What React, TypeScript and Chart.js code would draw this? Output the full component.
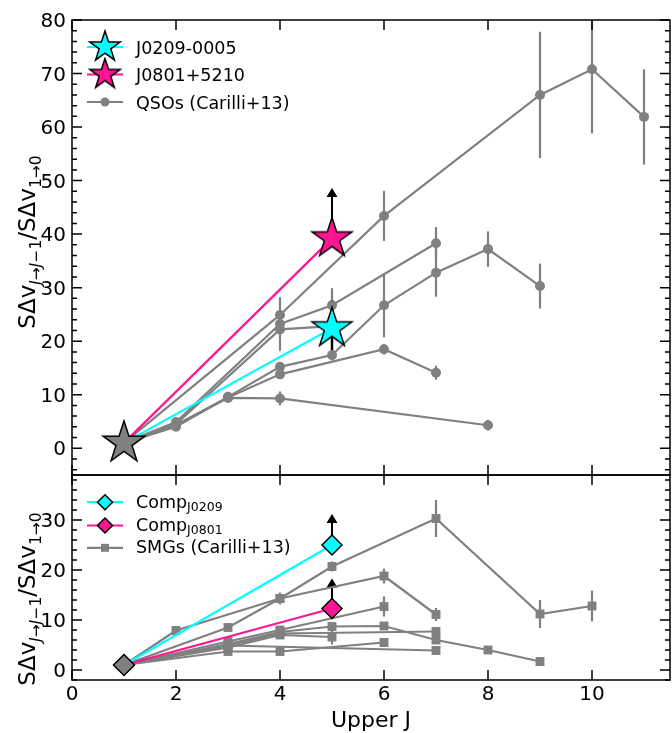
import React, { useEffect, useRef } from "react";
import { Chart, registerables } from "chart.js";
Chart.register(...registerables);

const FONT = '"DejaVu Sans", sans-serif';
const GREY = "#808080";
const CYAN = "#00ffff";
const PINK = "#ff1493";

// ---- axes / ticks ----
const X_MIN = 0;
const X_MAX = 11.5;
const X_TICKS = [0, 2, 4, 6, 8, 10];
const TOP_Y_MIN = -5;
const TOP_Y_MAX = 80;
const TOP_Y_TICKS = [0, 10, 20, 30, 40, 50, 60, 70, 80];
const BOT_Y_MIN = -2;
const BOT_Y_MAX = 39;
const BOT_Y_TICKS = [0, 10, 20, 30];

// ---- top panel: targets ----
const J0209_J = [1, 5];
const J0209_V = [1, 22.4];
const J0209_ERR = 5.3;
const J0801_J = [1, 5];
const J0801_V = [1, 39.2];
const J0801_LIMIT = 48.6;

// ---- top panel: QSOs (Carilli+13) ----
const QSO1_J = [1, 4, 6, 9, 10, 11];
const QSO1_V = [1, 24.9, 43.4, 66, 70.8, 61.9];
const QSO1_E = [0, 0, 4.7, 11.8, 12, 8.9];
const QSO2_J = [1, 2, 4, 5, 7];
const QSO2_V = [1, 4.9, 23.2, 26.7, 38.3];
const QSO2_E = [0, 0.4, 5, 3.2, 3];
const QSO3_J = [1, 2, 4, 5];
const QSO3_V = [1, 4.5, 22.2, 22.8];
const QSO3_E = [0, 0.4, 1, 1];
const QSO4_J = [1, 2, 3, 4, 5, 6, 7, 8, 9];
const QSO4_V = [1, 4.2, 9.6, 15.2, 17.4, 26.7, 32.8, 37.2, 30.3];
const QSO4_E = [0, 0.4, 0.6, 0.8, 1, 6, 4.5, 3.3, 4.2];
const QSO5_J = [1, 2, 3, 4, 6, 7];
const QSO5_V = [1, 4.0, 9.5, 13.8, 18.5, 14.1];
const QSO5_E = [0, 0.4, 0.6, 0.8, 1, 1.3];
const QSO6_J = [1, 2, 3, 4, 8];
const QSO6_V = [1, 4.4, 9.4, 9.3, 4.3];
const QSO6_E = [0, 0.4, 0.5, 1.3, 1];

// ---- bottom panel: companions ----
const COMP0209_J = [1, 5];
const COMP0209_V = [1, 25.0];
const COMP0209_LIMIT = 31.2;
const COMP0801_J = [1, 5];
const COMP0801_V = [1, 12.3];
const COMP0801_LIMIT = 18.3;

// ---- bottom panel: SMGs (Carilli+13) ----
const SMG1_J = [1, 3, 4, 5, 7, 9, 10];
const SMG1_V = [1, 8.5, 14.3, 20.7, 30.3, 11.2, 12.8];
const SMG1_E = [0, 0.5, 1.2, 1, 3.7, 2.8, 3.1];
const SMG2_J = [1, 2, 4, 6, 7];
const SMG2_V = [1, 7.9, 14.3, 18.8, 11.1];
const SMG2_E = [0, 0.4, 1, 1.5, 1.3];
const SMG3_J = [1, 3, 4, 6];
const SMG3_V = [1, 5.7, 8.0, 12.7];
const SMG3_E = [0, 0.5, 0.8, 2];
const SMG4_J = [1, 3, 4, 5, 6, 7, 8, 9];
const SMG4_V = [1, 5.2, 7.6, 8.7, 8.8, 6.0, 4.0, 1.7];
const SMG4_E = [0, 0.3, 0.5, 0.6, 0.5, 0.6, 0.4, 0.3];
const SMG5_J = [1, 3, 4, 7];
const SMG5_V = [1, 4.9, 7.3, 7.7];
const SMG5_E = [0, 0.4, 0.6, 0.8];
const SMG6_J = [1, 3, 4, 5];
const SMG6_V = [1, 4.5, 7.0, 6.6];
const SMG6_E = [0, 0.4, 0.6, 1.5];
const SMG7_J = [1, 3, 4, 6];
const SMG7_V = [1, 3.7, 3.7, 5.5];
const SMG7_E = [0, 0.3, 0.4, 0.5];
const SMG8_J = [1, 3, 7];
const SMG8_V = [1, 4.9, 3.9];
const SMG8_E = [0, 0.4, 0.8];

const pts = (js: number[], vs: number[]) => js.map((x, i) => ({ x, y: vs[i] }));

function makeStar(R: number, fill: string): HTMLCanvasElement {
  const pad = 2;
  const size = Math.ceil(2 * R + 2 * pad);
  const c = document.createElement("canvas");
  c.width = size;
  c.height = size;
  const g = c.getContext("2d")!;
  const cx = size / 2;
  const cy = size / 2;
  const r = R * 0.382;
  g.beginPath();
  for (let k = 0; k < 10; k++) {
    const rad = k % 2 === 0 ? R : r;
    const a = -Math.PI / 2 + (k * Math.PI) / 5;
    const px = cx + rad * Math.cos(a);
    const py = cy + rad * Math.sin(a);
    if (k === 0) g.moveTo(px, py);
    else g.lineTo(px, py);
  }
  g.closePath();
  g.fillStyle = fill;
  g.fill();
  g.lineWidth = 1.5;
  g.strokeStyle = "#000";
  g.stroke();
  return c;
}

function drawArrow(ctx: CanvasRenderingContext2D, x: number, yFrom: number, yTip: number) {
  const headL = 9;
  const headW = 5.5;
  ctx.save();
  ctx.strokeStyle = "#000";
  ctx.fillStyle = "#000";
  ctx.lineWidth = 2;
  ctx.beginPath();
  ctx.moveTo(x, yFrom);
  ctx.lineTo(x, yTip + headL);
  ctx.stroke();
  ctx.beginPath();
  ctx.moveTo(x, yTip);
  ctx.lineTo(x - headW, yTip + headL);
  ctx.lineTo(x + headW, yTip + headL);
  ctx.closePath();
  ctx.fill();
  ctx.restore();
}

function drawErrorBars(chart: any) {
  const { ctx, chartArea: a, scales } = chart;
  const xs = scales.x;
  const ys = scales.y;
  ctx.save();
  ctx.beginPath();
  ctx.rect(a.left, a.top, a.right - a.left, a.bottom - a.top);
  ctx.clip();
  ctx.strokeStyle = GREY;
  ctx.lineWidth = 2.2;
  chart.data.datasets.forEach((ds: any) => {
    if (!ds.errs) return;
    ds.data.forEach((p: any, j: number) => {
      const e = ds.errs[j];
      if (!e) return;
      const px = xs.getPixelForValue(p.x);
      ctx.beginPath();
      ctx.moveTo(px, ys.getPixelForValue(p.y - e));
      ctx.lineTo(px, ys.getPixelForValue(p.y + e));
      ctx.stroke();
    });
  });
  ctx.restore();
}

function drawFrame(chart: any, yTicks: number[], yMin: number, yMax: number, showX: boolean) {
  const { ctx, chartArea: a, scales } = chart;
  const xs = scales.x;
  const ys = scales.y;
  ctx.save();
  ctx.strokeStyle = "#000";
  ctx.lineWidth = 1.5;
  ctx.strokeRect(a.left, a.top, a.right - a.left, a.bottom - a.top);
  ctx.beginPath();
  X_TICKS.forEach((v) => {
    const px = xs.getPixelForValue(v);
    ctx.moveTo(px, a.bottom);
    ctx.lineTo(px, a.bottom - 10);
    ctx.moveTo(px, a.top);
    ctx.lineTo(px, a.top + 10);
  });
  for (let v = Math.ceil(yMin / 2) * 2; v <= yMax; v += 2) {
    const py = ys.getPixelForValue(v);
    const L = yTicks.includes(v) ? 10 : 5;
    ctx.moveTo(a.left, py);
    ctx.lineTo(a.left + L, py);
    ctx.moveTo(a.right, py);
    ctx.lineTo(a.right - L, py);
  }
  ctx.stroke();
  ctx.fillStyle = "#000";
  ctx.font = `20px ${FONT}`;
  ctx.textAlign = "right";
  ctx.textBaseline = "alphabetic";
  yTicks.forEach((v) => {
    ctx.fillText(String(v), a.left - 6, ys.getPixelForValue(v) + 7);
  });
  if (showX) {
    ctx.textAlign = "center";
    X_TICKS.forEach((v) => {
      ctx.fillText(String(v), xs.getPixelForValue(v), a.bottom + 20);
    });
  }
  ctx.restore();
}

function drawYTitle(ctx: CanvasRenderingContext2D, bx: number, cy: number) {
  const main = 23;
  const sub = 15.5;
  const drop = 5.5;
  const parts = [
    { t: "SΔv", f: `${main}px ${FONT}`, dy: 0 },
    { t: "J", f: `italic ${sub}px ${FONT}`, dy: drop },
    { t: "→", f: `${sub}px ${FONT}`, dy: drop },
    { t: "J", f: `italic ${sub}px ${FONT}`, dy: drop },
    { t: "−1", f: `${sub}px ${FONT}`, dy: drop },
    { t: "/SΔv", f: `${main}px ${FONT}`, dy: 0 },
    { t: "1→0", f: `${sub}px ${FONT}`, dy: drop },
  ];
  ctx.save();
  let total = 0;
  const widths = parts.map((p) => {
    ctx.font = p.f;
    const w = ctx.measureText(p.t).width;
    total += w;
    return w;
  });
  ctx.translate(bx, cy);
  ctx.rotate(-Math.PI / 2);
  ctx.fillStyle = "#000";
  ctx.textAlign = "left";
  ctx.textBaseline = "alphabetic";
  let x = -total / 2;
  parts.forEach((p, i) => {
    ctx.font = p.f;
    ctx.fillText(p.t, x, p.dy);
    x += widths[i];
  });
  ctx.restore();
}

function legendLine(ctx: CanvasRenderingContext2D, y: number, color: string) {
  ctx.save();
  ctx.strokeStyle = color;
  ctx.lineWidth = 2.2;
  ctx.beginPath();
  ctx.moveTo(87, y);
  ctx.lineTo(123, y);
  ctx.stroke();
  ctx.restore();
}

function legendDiamond(ctx: CanvasRenderingContext2D, x: number, y: number, r: number, fill: string) {
  ctx.save();
  ctx.beginPath();
  ctx.moveTo(x, y - r);
  ctx.lineTo(x + r, y);
  ctx.lineTo(x, y + r);
  ctx.lineTo(x - r, y);
  ctx.closePath();
  ctx.fillStyle = fill;
  ctx.fill();
  ctx.strokeStyle = "#000";
  ctx.lineWidth = 1.5;
  ctx.stroke();
  ctx.restore();
}

const STAR_CYAN = makeStar(21, CYAN);
const STAR_PINK = makeStar(21, PINK);
const STAR_GREY = makeStar(22, GREY);
const LSTAR_CYAN = makeStar(16, CYAN);
const LSTAR_PINK = makeStar(16, PINK);

const greyRadius = (r: number) => (c: any) => (c.dataIndex === 0 ? 0 : r);

function qso(js: number[], vs: number[], es: number[]) {
  return {
    data: pts(js, vs),
    errs: es,
    borderColor: GREY,
    borderWidth: 2.2,
    pointStyle: "circle",
    pointRadius: greyRadius(5),
    pointBackgroundColor: GREY,
    pointBorderWidth: 0,
    order: 10,
  };
}

function smg(js: number[], vs: number[], es: number[]) {
  return {
    data: pts(js, vs),
    errs: es,
    borderColor: GREY,
    borderWidth: 2.2,
    pointStyle: "rect",
    pointRadius: greyRadius(6.3),
    pointBackgroundColor: GREY,
    pointBorderWidth: 0,
    order: 10,
  };
}

function lineOnly(js: number[], vs: number[], color: string) {
  return {
    data: pts(js, vs),
    borderColor: color,
    borderWidth: 2.2,
    pointRadius: 0,
    order: 5,
  };
}

function marker(j: number, v: number, style: any, radius: number, fill: string, order: number) {
  return {
    data: [{ x: j, y: v }],
    showLine: false,
    pointStyle: style,
    pointRadius: radius,
    pointBackgroundColor: fill,
    pointBorderColor: "#000",
    pointBorderWidth: 1.5,
    order,
  };
}

const topPlugin = {
  id: "topPanel",
  beforeDatasetsDraw(chart: any) {
    drawErrorBars(chart);
    const { ctx, scales } = chart;
    const xs = scales.x;
    const ys = scales.y;
    const px = xs.getPixelForValue(J0209_J[1]);
    ctx.save();
    ctx.strokeStyle = "#000";
    ctx.lineWidth = 2.5;
    ctx.beginPath();
    ctx.moveTo(px, ys.getPixelForValue(J0209_V[1] - J0209_ERR));
    ctx.lineTo(px, ys.getPixelForValue(J0209_V[1] + J0209_ERR));
    ctx.stroke();
    ctx.restore();
    drawArrow(
      ctx,
      xs.getPixelForValue(J0801_J[1]),
      ys.getPixelForValue(J0801_V[1]),
      ys.getPixelForValue(J0801_LIMIT)
    );
  },
  afterDraw(chart: any) {
    const { ctx } = chart;
    drawFrame(chart, TOP_Y_TICKS, TOP_Y_MIN, TOP_Y_MAX, false);
    drawYTitle(ctx, 35, 242);
    const rows = [53.5, 81, 108.5];
    ctx.save();
    legendLine(ctx, rows[0] - 6.5, CYAN);
    ctx.drawImage(LSTAR_CYAN, 105 - LSTAR_CYAN.width / 2, rows[0] - 6.5 - LSTAR_CYAN.height / 2);
    legendLine(ctx, rows[1] - 6.5, PINK);
    ctx.drawImage(LSTAR_PINK, 105 - LSTAR_PINK.width / 2, rows[1] - 6.5 - LSTAR_PINK.height / 2);
    legendLine(ctx, rows[2] - 6.5, GREY);
    ctx.fillStyle = GREY;
    ctx.beginPath();
    ctx.arc(105, rows[2] - 6.5, 4.5, 0, Math.PI * 2);
    ctx.fill();
    ctx.fillStyle = "#000";
    ctx.font = `17.5px ${FONT}`;
    ctx.textAlign = "left";
    ctx.textBaseline = "alphabetic";
    ctx.fillText("J0209-0005", 136, rows[0]);
    ctx.fillText("J0801+5210", 136, rows[1]);
    ctx.fillText("QSOs (Carilli+13)", 136, rows[2]);
    ctx.restore();
  },
};

const botPlugin = {
  id: "botPanel",
  beforeDatasetsDraw(chart: any) {
    drawErrorBars(chart);
    const { ctx, scales } = chart;
    const xs = scales.x;
    const ys = scales.y;
    drawArrow(ctx, xs.getPixelForValue(COMP0209_J[1]), ys.getPixelForValue(COMP0209_V[1]), ys.getPixelForValue(COMP0209_LIMIT));
    drawArrow(ctx, xs.getPixelForValue(COMP0801_J[1]), ys.getPixelForValue(COMP0801_V[1]), ys.getPixelForValue(COMP0801_LIMIT));
  },
  afterDraw(chart: any) {
    const { ctx, chartArea: a } = chart;
    drawFrame(chart, BOT_Y_TICKS, BOT_Y_MIN, BOT_Y_MAX, true);
    drawYTitle(ctx, 35, 126);
    ctx.save();
    ctx.fillStyle = "#000";
    ctx.font = `22px ${FONT}`;
    ctx.textAlign = "center";
    ctx.textBaseline = "alphabetic";
    ctx.fillText("Upper J", (a.left + a.right) / 2, 254);
    const rows = [34.7, 58, 80.3];
    legendLine(ctx, rows[0] - 5.5, CYAN);
    legendDiamond(ctx, 105, rows[0] - 5.5, 7.5, CYAN);
    legendLine(ctx, rows[1] - 5.5, PINK);
    legendDiamond(ctx, 105, rows[1] - 5.5, 7.5, PINK);
    legendLine(ctx, rows[2] - 5.5, GREY);
    ctx.fillStyle = GREY;
    ctx.fillRect(105 - 4, rows[2] - 5.5 - 4, 8, 8);
    ctx.fillStyle = "#000";
    ctx.textAlign = "left";
    const main = `17.5px ${FONT}`;
    const sub = `12.5px ${FONT}`;
    const compLabel = (y: number, s: string) => {
      ctx.font = main;
      ctx.fillText("Comp", 136, y);
      const w = ctx.measureText("Comp").width;
      ctx.font = sub;
      ctx.fillText(s, 136 + w, y + 3);
    };
    compLabel(rows[0], "J0209");
    compLabel(rows[1], "J0801");
    ctx.font = main;
    ctx.fillText("SMGs (Carilli+13)", 136, rows[2]);
    ctx.restore();
  },
};

function baseOptions(yMin: number, yMax: number, padding: any) {
  return {
    responsive: false,
    animation: false as const,
    layout: { padding, autoPadding: false },
    plugins: { legend: { display: false }, tooltip: { enabled: false } },
    elements: { line: { tension: 0 } },
    scales: {
      x: { type: "linear" as const, min: X_MIN, max: X_MAX, display: false },
      y: { type: "linear" as const, min: yMin, max: yMax, display: false },
    },
  };
}

export default function App() {
  const topRef = useRef<HTMLCanvasElement>(null);
  const botRef = useRef<HTMLCanvasElement>(null);
  useEffect(() => {
    const top = new Chart(topRef.current!, {
      type: "line",
      data: {
        datasets: [
          marker(1, 1, STAR_GREY, 10, GREY, 0) as any,
          marker(J0209_J[1], J0209_V[1], STAR_CYAN, 10, CYAN, 1),
          marker(J0801_J[1], J0801_V[1], STAR_PINK, 10, PINK, 1),
          lineOnly(J0209_J, J0209_V, CYAN),
          lineOnly(J0801_J, J0801_V, PINK),
          qso(QSO1_J, QSO1_V, QSO1_E),
          qso(QSO2_J, QSO2_V, QSO2_E),
          qso(QSO3_J, QSO3_V, QSO3_E),
          qso(QSO4_J, QSO4_V, QSO4_E),
          qso(QSO5_J, QSO5_V, QSO5_E),
          qso(QSO6_J, QSO6_V, QSO6_E),
        ],
      },
      options: baseOptions(TOP_Y_MIN, TOP_Y_MAX, { left: 72, right: 2, top: 20, bottom: 2 }) as any,
      plugins: [topPlugin],
    });
    const bot = new Chart(botRef.current!, {
      type: "line",
      data: {
        datasets: [
          marker(1, 1, "rectRot", 10.5, GREY, 0) as any,
          marker(COMP0209_J[1], COMP0209_V[1], "rectRot", 10, CYAN, 1),
          marker(COMP0801_J[1], COMP0801_V[1], "rectRot", 10, PINK, 1),
          lineOnly(COMP0209_J, COMP0209_V, CYAN),
          lineOnly(COMP0801_J, COMP0801_V, PINK),
          smg(SMG1_J, SMG1_V, SMG1_E),
          smg(SMG2_J, SMG2_V, SMG2_E),
          smg(SMG3_J, SMG3_V, SMG3_E),
          smg(SMG4_J, SMG4_V, SMG4_E),
          smg(SMG5_J, SMG5_V, SMG5_E),
          smg(SMG6_J, SMG6_V, SMG6_E),
          smg(SMG7_J, SMG7_V, SMG7_E),
          smg(SMG8_J, SMG8_V, SMG8_E),
        ],
      },
      options: baseOptions(BOT_Y_MIN, BOT_Y_MAX, { left: 72, right: 2, top: 2, bottom: 53 }) as any,
      plugins: [botPlugin],
    });
    return () => {
      top.destroy();
      bot.destroy();
    };
  }, []);
  return (
    <div style={{ position: "absolute", left: 0, top: 0, width: 672, height: 733, background: "#fff" }}>
      <canvas ref={topRef} width={672} height={477} style={{ position: "absolute", left: 0, top: 0 }} />
      <canvas ref={botRef} width={672} height={260} style={{ position: "absolute", left: 0, top: 473 }} />
    </div>
  );
}
